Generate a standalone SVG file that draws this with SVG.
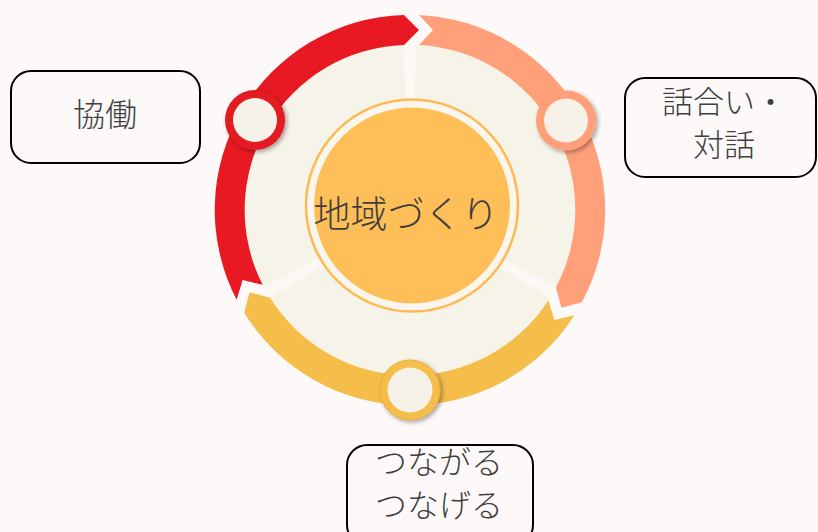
<svg xmlns="http://www.w3.org/2000/svg" width="818" height="532" viewBox="0 0 818 532">
  <style>
    .box { fill: #FCF9F8; stroke: #000; stroke-width: 2; }
    .lbl { font-family: "Noto Sans CJK JP", "Noto Sans", sans-serif; font-weight: 300; fill: #3F3F3F; text-anchor: middle; }
    .spoke { fill: #FBF8F5; }
    .knob-in { fill: #F6F2E7; }
  </style>
  <defs>
    <filter id="sh" x="-30%" y="-30%" width="160%" height="160%">
      <feDropShadow dx="2" dy="2" stdDeviation="2" flood-color="#000" flood-opacity="0.35"/>
    </filter>
  </defs>
  <rect width="818" height="532" fill="#FCF9F8"/>

  <g id="cycle">
    <circle cx="410" cy="210" r="165" fill="#F6F3E8"/>
    <g id="spokes">
      <polygon class="spoke" points="406,118 414,118 416,44 404,44"/>
      <polygon class="spoke" points="406,118 414,118 416,44 404,44" transform="rotate(120 410 210)"/>
      <polygon class="spoke" points="406,118 414,118 416,44 404,44" transform="rotate(240 410 210)"/>
    </g>
    <g id="connectors">
      <path id="arrow-red" fill="#E81922" d="M236.63,299.71 A195,195 0 0 1 404,15 L419,30 L404,45 A165,165 0 0 0 262.61,284.71 L242.62,280.08 Z"/>
      <path id="arrow-salmon" fill="#FFA07A" d="M419,15 A195,195 0 0 1 581.87,302.30 L561.38,307.79 L555.89,287.30 A165,165 0 0 0 419,45 L433,30 Z"/>
      <path id="arrow-yellow" fill="#F5BE4B" d="M574.37,315.29 A195,195 0 0 1 244.13,312.70 L249.62,292.21 L270.11,297.70 A165,165 0 0 0 548.39,300.29 L554.38,319.92 Z"/>
    </g>
  </g>

  <g id="node-center">
    <circle cx="412" cy="205.5" r="106" fill="#FAF6EE" stroke="#FDBA52" stroke-width="2.5"/>
    <circle cx="412" cy="205.5" r="98" fill="#FEBE58"/>
    <text class="lbl" x="406" y="227.5" font-size="37" fill="#383838">地域づくり</text>
  </g>

  <g id="knob-red" filter="url(#sh)">
    <circle cx="255" cy="120" r="30" fill="#E21A22"/>
    <circle class="knob-in" cx="255" cy="120" r="22"/>
  </g>
  <g id="knob-salmon" filter="url(#sh)">
    <circle cx="566" cy="120.5" r="30" fill="#FF9F7A"/>
    <circle class="knob-in" cx="566" cy="120.5" r="22"/>
  </g>
  <g id="knob-yellow" filter="url(#sh)">
    <circle cx="410" cy="390" r="30" fill="#F5BE4B" stroke="#E6AE3E" stroke-width="1"/>
    <circle class="knob-in" cx="410" cy="390" r="22.5"/>
  </g>

  <g id="node-kyodo">
    <rect class="box" x="11" y="71" width="189" height="92" rx="20"/>
    <text class="lbl" x="105" y="126" font-size="32">協働</text>
  </g>
  <g id="node-hanashiai">
    <rect class="box" x="625" y="78" width="191" height="99" rx="20"/>
    <text class="lbl" x="724" y="113" font-size="31">話合い・</text>
    <text class="lbl" x="724" y="155.5" font-size="31">対話</text>
  </g>
  <g id="node-tsunagaru">
    <rect class="box" x="347" y="445" width="186" height="100" rx="20"/>
    <text class="lbl" x="439" y="473.5" font-size="32">つながる</text>
    <text class="lbl" x="439" y="516.5" font-size="32">つなげる</text>
  </g>
</svg>
